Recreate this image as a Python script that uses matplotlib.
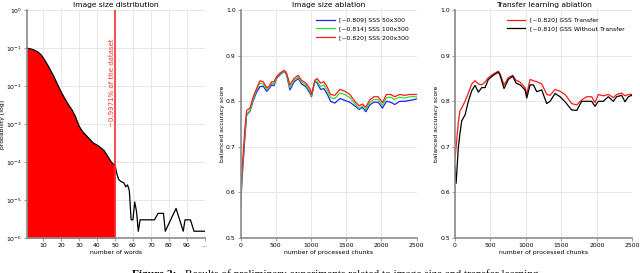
import numpy as np
import matplotlib
matplotlib.use('Agg')
import matplotlib.pyplot as plt

# ---- panel 1: image size distribution (probability per number of words)
words = [1, 3, 5, 7, 9, 10, 12, 14, 16, 18, 20, 22, 24, 26, 28, 30, 32, 34,
         36, 38, 40, 42, 44, 46, 48, 49, 50, 51, 52, 53, 55, 56, 57, 58, 59,
         60, 61, 62, 63, 64, 72, 74, 77, 78, 84, 88, 89, 92, 94, 100]
log_prob = [-1.0, -1.02, -1.05, -1.1, -1.18, -1.25, -1.4, -1.57, -1.75, -1.95,
            -2.15, -2.32, -2.48, -2.62, -2.8, -3.05, -3.2, -3.3, -3.4, -3.5,
            -3.55, -3.62, -3.7, -3.85, -4.0, -4.05, -4.07, -4.3, -4.45, -4.5,
            -4.55, -4.65, -4.6, -4.75, -5.52, -5.52, -5.05, -5.3, -5.82, -5.52,
            -5.52, -5.35, -5.35, -5.82, -5.22, -5.82, -5.52, -5.52, -5.82, -5.82]
prob = [10 ** v for v in log_prob]
cutoff = 50
cutoff_label = '~0.9971% of the dataset'

# ---- panel 2: image size ablation
chunks = [0, 25, 60, 85, 132, 180, 227, 274, 321, 369, 402, 440, 473, 510,
          558, 619, 652, 700, 757, 818, 865, 927, 983, 1007, 1054, 1087, 1135,
          1182, 1229, 1277, 1338, 1409, 1480, 1551, 1622, 1683, 1730, 1778,
          1834, 1891, 1953, 2014, 2071, 2128, 2189, 2260, 2331, 2402, 2500]
sss_200 = [0.60, 0.66, 0.74, 0.780, 0.785, 0.810, 0.828, 0.845, 0.843, 0.830,
           0.832, 0.843, 0.843, 0.854, 0.862, 0.868, 0.862, 0.836, 0.850, 0.857,
           0.846, 0.840, 0.828, 0.815, 0.846, 0.850, 0.840, 0.843, 0.832, 0.815,
           0.813, 0.826, 0.822, 0.815, 0.800, 0.790, 0.794, 0.787, 0.803, 0.810,
           0.810, 0.797, 0.815, 0.815, 0.810, 0.815, 0.813, 0.815, 0.815]
sss_100 = [0.59, 0.65, 0.73, 0.772, 0.780, 0.805, 0.825, 0.840, 0.838, 0.826,
           0.830, 0.840, 0.838, 0.852, 0.860, 0.867, 0.860, 0.830, 0.846, 0.853,
           0.842, 0.836, 0.822, 0.812, 0.844, 0.844, 0.832, 0.836, 0.824, 0.808,
           0.806, 0.818, 0.815, 0.808, 0.795, 0.784, 0.790, 0.782, 0.797, 0.804,
           0.804, 0.791, 0.808, 0.809, 0.804, 0.809, 0.807, 0.810, 0.810]
sss_50 = [0.57, 0.64, 0.72, 0.770, 0.778, 0.802, 0.820, 0.832, 0.833, 0.822,
          0.827, 0.836, 0.834, 0.850, 0.858, 0.866, 0.858, 0.825, 0.842, 0.850,
          0.838, 0.832, 0.818, 0.810, 0.844, 0.840, 0.826, 0.828, 0.816, 0.800,
          0.796, 0.806, 0.802, 0.798, 0.790, 0.782, 0.787, 0.777, 0.792, 0.798,
          0.798, 0.785, 0.800, 0.798, 0.793, 0.800, 0.800, 0.802, 0.805]
ablation_labels = ['[~0.809] SSS 50x300', '[~0.814] SSS 100x300', '[~0.820] SSS 200x300']

# ---- panel 3: transfer learning ablation
chunks_t = [0, 15, 47, 70, 94, 141, 188, 235, 282, 329, 376, 423, 470, 540,
            611, 635, 691, 752, 813, 860, 917, 987, 1011, 1058, 1105, 1152,
            1222, 1293, 1340, 1410, 1481, 1551, 1598, 1645, 1716, 1786, 1857,
            1927, 1974, 2021, 2091, 2162, 2232, 2279, 2350, 2397, 2444, 2491]
gss_transfer = [0.675, 0.70, 0.755, 0.780, 0.785, 0.800, 0.818, 0.838, 0.845, 0.838,
                0.836, 0.842, 0.852, 0.860, 0.866, 0.860, 0.836, 0.852, 0.857, 0.846,
                0.842, 0.830, 0.815, 0.848, 0.845, 0.843, 0.838, 0.815, 0.813, 0.826,
                0.822, 0.815, 0.805, 0.795, 0.792, 0.803, 0.810, 0.810, 0.797, 0.815,
                0.812, 0.815, 0.808, 0.815, 0.818, 0.812, 0.815, 0.815]
gss_no_transfer = [0.656, 0.620, 0.700, 0.730, 0.757, 0.770, 0.800, 0.823, 0.835, 0.820,
                   0.830, 0.830, 0.848, 0.857, 0.864, 0.857, 0.828, 0.848, 0.855, 0.840,
                   0.836, 0.825, 0.807, 0.836, 0.836, 0.821, 0.825, 0.795, 0.800, 0.817,
                   0.810, 0.799, 0.790, 0.781, 0.780, 0.800, 0.800, 0.800, 0.789, 0.800,
                   0.800, 0.810, 0.800, 0.810, 0.813, 0.799, 0.810, 0.813]
transfer_labels = ['[~0.820] GSS Transfer', '[~0.810] GSS Without Transfer']

caption_head = 'Figure 2:'
caption = 'Results of preliminary experiments related to image size and transfer learning.'

FS = 4.4
TITLE_FS = 5.4
GRID = '#e3e3e3'
SPINE = '#8a8a8a'


def style_axes(ax):
    ax.grid(True, color=GRID, linewidth=0.6)
    ax.set_axisbelow(True)
    for s in ['top', 'right']:
        ax.spines[s].set_visible(False)
    for s in ['left', 'bottom']:
        ax.spines[s].set_color(SPINE)
        ax.spines[s].set_linewidth(1.2)
    ax.tick_params(labelsize=FS, length=2, width=0.6, color=SPINE, pad=1.5)


fig = plt.figure(figsize=(6.4, 2.73), dpi=100)
ax1 = fig.add_axes([0.042, 0.128, 0.278, 0.835])
ax2 = fig.add_axes([0.376, 0.128, 0.275, 0.835])
ax3 = fig.add_axes([0.711, 0.128, 0.277, 0.835])

# panel 1
w = np.array(words)
p = np.array(prob)
mask = w <= cutoff
ax1.fill_between(w[mask], 1e-6, p[mask], color='red', linewidth=0)
ax1.plot(w, p, color='black', linewidth=0.9)
ax1.axvline(cutoff, color='#ff3030', linewidth=1.2)
ax1.text(cutoff - 1.8, 10 ** -1.9, cutoff_label, rotation=90, color='#ff3030',
         fontsize=5.0, ha='center', va='center')
ax1.set_yscale('log')
ax1.set_ylim(1e-6, 1)
ax1.set_xlim(1, 100)
ax1.set_xticks([10, 20, 30, 40, 50, 60, 70, 80, 90, 100])
ax1.set_xticklabels(['10', '20', '30', '40', '50', '60', '70', '80', '90', '...'])
ax1.set_yticks([1e-6, 1e-5, 1e-4, 1e-3, 1e-2, 1e-1, 1])
ax1.minorticks_off()
ax1.set_title('Image size distribution', fontsize=TITLE_FS, pad=2)
ax1.set_xlabel('number of words', fontsize=FS, labelpad=1.5)
ax1.set_ylabel('probability [log]', fontsize=FS, labelpad=1)
style_axes(ax1)

# panel 2
ax2.plot(chunks, sss_50, color='#1f1fff', linewidth=0.9, label=ablation_labels[0])
ax2.plot(chunks, sss_100, color='#33dd33', linewidth=0.9, label=ablation_labels[1])
ax2.plot(chunks, sss_200, color='#ff1a1a', linewidth=0.9, label=ablation_labels[2])
ax2.set_title('Image size ablation', fontsize=TITLE_FS, pad=2)

# panel 3
ax3.plot(chunks_t, gss_transfer, color='#ff1a1a', linewidth=0.9, label=transfer_labels[0])
ax3.plot(chunks_t, gss_no_transfer, color='black', linewidth=0.9, label=transfer_labels[1])
ax3.set_title('Transfer learning ablation', fontsize=TITLE_FS, pad=2)

for ax in (ax2, ax3):
    ax.set_xlim(0, 2500)
    ax.set_ylim(0.5, 1.0)
    ax.set_xticks([0, 500, 1000, 1500, 2000, 2500])
    ax.set_yticks([0.5, 0.6, 0.7, 0.8, 0.9, 1.0])
    ax.set_xlabel('number of processed chunks', fontsize=FS, labelpad=1.5)
    ax.set_ylabel('balanced accuracy score', fontsize=FS, labelpad=1)
    style_axes(ax)
    ax.legend(loc='upper right', fontsize=FS, frameon=False, handlelength=3.0,
              borderaxespad=0.8, labelspacing=0.55)

# cut-off figure caption at the bottom
head = fig.text(132 / 640, -0.016, caption_head, fontsize=8.2, family='Liberation Serif',
                fontweight='bold', va='baseline', ha='left')
fig.canvas.draw()
bb = head.get_window_extent(renderer=fig.canvas.get_renderer())
fig.text((bb.x1 + 9) / 640, -0.016, caption, fontsize=8.2, family='Liberation Serif',
         va='baseline', ha='left')

fig.savefig('out.png', dpi=100)
